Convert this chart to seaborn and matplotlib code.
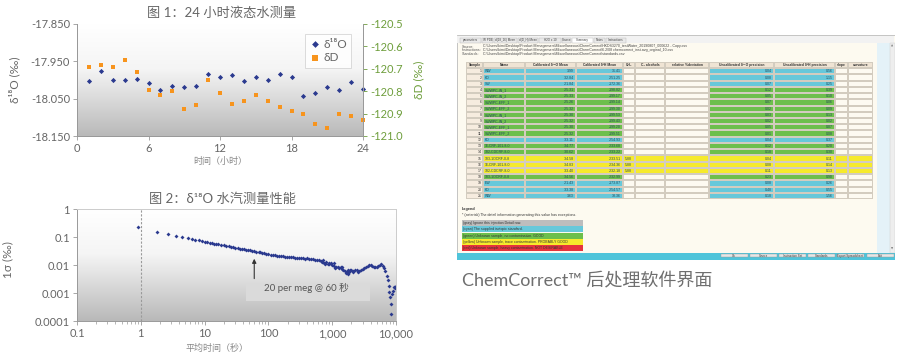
import numpy as np
import seaborn as sns
import matplotlib.pyplot as plt
from matplotlib.colors import LinearSegmentedColormap, ListedColormap
from matplotlib.patches import Rectangle
from matplotlib.ticker import FixedLocator, NullLocator, LogLocator, NullFormatter

# ---- 图1: 24 小时液态水测量 ----
hours = [1, 2, 3, 4, 5, 6, 7, 8, 9, 10, 11, 12, 13, 14, 15, 16, 17, 18, 19, 20, 21, 22, 23, 24]
d18o = [-18.002, -17.976, -18.001, -18.000, -17.997, -18.009, -18.028, -18.015, -18.020, -18.016,
        -17.983, -17.991, -17.986, -18.002, -17.991, -17.999, -17.984, -17.993, -18.043, -18.036,
        -18.019, -18.028, -18.006, -18.024]
dD = [-120.691, -120.681, -120.694, -120.660, -120.716, -120.794, -120.818, -120.797, -120.879, -120.861,
      -120.752, -120.809, -120.858, -120.843, -120.816, -120.842, -120.872, -120.887, -120.903, -120.948,
      -120.964, -120.903, -120.912, -120.928]

# ---- 图2: Allan 偏差 ----
tau = [0.9, 1.8, 2.7, 3.6, 4.5, 5.4, 6.3, 7.2, 8.1, 9.0, 10, 11, 12, 13, 14, 15, 16, 18, 20, 22, 24, 26, 28,
       30, 33, 36, 39, 42, 45, 48, 52, 56, 60, 65, 70, 75, 80, 86, 92, 100, 108, 116, 125, 135, 145, 156,
       168, 180, 195, 210, 225, 240, 260, 280, 300, 320, 345, 370, 400, 430, 460, 500, 540, 580, 620, 660,
       700, 720, 750, 780, 800, 850, 880, 900, 950, 1000, 1050, 1080, 1120, 1150, 1230, 1300, 1350, 1400,
       1450, 1500, 1600, 1650, 1700, 1750, 1800, 1850, 1900, 2000, 2100, 2150, 2300, 2450, 2500, 2600,
       2800, 3000, 3200, 3400, 3600, 3800, 4000, 4250, 4500, 4750, 5000, 5300, 5600, 5900, 6200, 6500,
       6800, 7100, 7400, 7700, 7900, 8100, 8250, 8350, 8600, 8900, 9300, 9700, 9900]
sigma = [0.22, 0.15, 0.125, 0.108, 0.098, 0.090, 0.084, 0.079, 0.075, 0.071, 0.068, 0.065, 0.062, 0.060,
         0.058, 0.056, 0.055, 0.052, 0.050, 0.048, 0.046, 0.044, 0.043, 0.042, 0.040, 0.038, 0.037, 0.036,
         0.035, 0.034, 0.033, 0.032, 0.031, 0.030, 0.029, 0.028, 0.027, 0.026, 0.025, 0.024, 0.0235, 0.023,
         0.022, 0.0215, 0.021, 0.021, 0.0205, 0.020, 0.0198, 0.0195, 0.019, 0.0188, 0.0185, 0.018, 0.0178,
         0.0182, 0.0175, 0.017, 0.0172, 0.0165, 0.016, 0.0162, 0.0155, 0.015, 0.0145, 0.014, 0.013, 0.0145,
         0.012, 0.011, 0.0125, 0.011, 0.012, 0.0105, 0.0115, 0.010, 0.0115, 0.0095, 0.0078, 0.0088, 0.0085,
         0.008, 0.0088, 0.0072, 0.0082, 0.0068, 0.0062, 0.0052, 0.0058, 0.0048, 0.0064, 0.0055, 0.0068,
         0.0065, 0.0055, 0.0062, 0.0066, 0.0064, 0.0058, 0.0063, 0.0068, 0.0072, 0.0078, 0.0085, 0.0095,
         0.0102, 0.0098, 0.0092, 0.0088, 0.0085, 0.0088, 0.0092, 0.0098, 0.0105, 0.0095, 0.0078, 0.006,
         0.0042, 0.0028, 0.0018, 0.0011, 0.0007, 0.0004, 0.00018, 0.0009, 0.0012, 0.0017, 0.0015, 0.0018]

# ---- ChemCorrect 表格 ----
col_names = ['Sample', 'Name', 'Calibrated δ¹⁸O Mean', 'Calibrated δ²H Mean', 'CH₄', 'C₂ alcohols',
             'relative %deviation', 'Uncalibrated δ¹⁸O precision', 'Uncalibrated δ²H precision',
             'slope', 'curvature']
names = ['WW', 'KD', 'SW', 'SWWPC-IN_1', 'SWWPC-IN_2', 'SWWPC-EFF_1', 'SWWPC-EFF_2', 'SWWPC-IN_1',
         'SWWPC-IN_2', 'SWWPC-EFF_1', 'SWWPC-EFF_2', 'KD', '16-CRF-101-8-0', '182-CDCRF-8-0',
         '183-1OCRF-0-8', '16-CRF-101-8-0', '182-CDCRF-8-0', '183-1OCRF-0-8', 'EW', 'KD', 'WW']
cal_d18o = [3.99, -32.84, -21.84, -25.31, -25.33, -25.26, -25.32, -25.30, -25.32, -25.30, -25.32,
            -33.11, -34.77, -30.62, -34.58, -34.83, -33.40, -34.56, -21.43, -33.38, 3.63]
cal_d2h = [31.41, -251.25, -172.36, -198.82, -199.17, -199.14, -199.30, -199.53, -199.43, -199.20,
           -199.51, -254.93, -233.68, -233.22, -233.51, -234.36, -232.18, -232.99, -173.87, -254.57, 33.36]
ch4 = [''] * 14 + ['5.88', '5.88', '5.88'] + [''] * 4
prec_d18o = [0.04, 0.08, 0.07, 0.12, 0.05, 0.07, 0.02, 0.03, 0.02, 0.05, 0.01, 0.04, 0.12, 0.18, 0.04,
             0.08, 0.11, 0.23, 0.08, 0.48, 0.18]
prec_d2h = [0.56, 1.15, 0.25, 0.39, 0.10, 0.06, 0.09, 0.13, 0.02, 0.07, 0.08, 0.37, 0.20, 0.30, 0.11,
            0.14, 0.13, 0.90, 0.26, 0.55, 1.56]
row_status = ['cyan'] * 3 + ['green'] * 8 + ['cyan'] + ['green'] * 2 + ['yellow'] * 3 + ['green'] + ['cyan'] * 3

legend_keys = ['(gray) Ignore this injection Detail row.',
               '(cyan) The supplied isotopic standard.',
               '(green) Unknown sample, no contamination. GOOD',
               '(yellow) Unknown sample, trace contamination. PROBABLY GOOD',
               '(red) Unknown sample, heavy contamination. NOT DESIRABLE']
legend_cols = ['#bdbdbd', '#67c8da', '#6dbf4c', '#f6ea2c', '#e6333d']
tabs = ['parameters', 'IR PDE', 'd(18_16) Mean', 'd(D_H) Mean', 'H2O x 10', 'Source', 'Summary',
        'Notes', 'Instructions']
buttons = ['Ok', 'Source', 'Instruction Set', 'Standards', 'Export Spreadsheet', 'Exit']

BLUE = '#2b3a8f'
ORANGE = '#f7941d'
GREEN = '#6e9e3c'
GREY_TXT = '#666666'

sns.set_style('ticks')
plt.rcParams['font.family'] = ['Lato', 'DejaVu Sans', 'Noto Sans CJK SC']
plt.rcParams['axes.unicode_minus'] = False

W, H = 913, 352


def box(x0, y0, x1, y1):
    return [x0 / W, 1 - y1 / H, (x1 - x0) / W, (y1 - y0) / H]


fig = plt.figure(figsize=(9.13, 3.52), dpi=100)
bg_cmap = LinearSegmentedColormap.from_list('bg', [(0, '#ffffff'), (0.4, '#f5f5f5'), (1, '#b9b9b9')])


def gradient_bg(rect):
    bg = fig.add_axes(rect, zorder=0)
    bg.imshow(np.linspace(0, 1, 200).reshape(-1, 1), cmap=bg_cmap, aspect='auto', extent=[0, 1, 0, 1])
    bg.axis('off')


def style_axes(ax):
    ax.set_facecolor('none')
    ax.tick_params(colors='#999999', labelcolor=GREY_TXT, length=3, width=0.6, labelsize=8, pad=2)
    for s in ax.spines.values():
        s.set_color('#999999')
        s.set_linewidth(0.7)


# ---------- 图1 ----------
r1 = box(77, 24, 363, 136)
gradient_bg(r1)
ax1 = fig.add_axes(r1, zorder=1)
style_axes(ax1)
sns.scatterplot(x=hours, y=d18o, ax=ax1, marker='D', s=7, color=BLUE, linewidth=0, label='δ¹⁸O',
                legend=False, clip_on=False)
ax1.set_xlim(0, 24)
ax1.set_ylim(-18.150, -17.850)
ax1.set_xticks([0, 6, 12, 18, 24])
ax1.set_yticks([-18.150, -18.050, -17.950, -17.850])
ax1.set_yticklabels(['%.3f' % v for v in [-18.150, -18.050, -17.950, -17.850]])
ax1.spines['top'].set_visible(False)
ax1.set_xlabel('时间（小时）', fontsize=6.5, color='#888888', labelpad=1)
ax1.set_ylabel('δ¹⁸O (‰)', fontsize=8.5, color=GREY_TXT)
ax1.xaxis.set_label_coords(0.5, -0.19)
ax1.yaxis.set_label_coords(-0.2, 0.5)

ax1b = ax1.twinx()
ax1b.set_zorder(2)
style_axes(ax1b)
ax1b.spines['top'].set_visible(False)
sns.scatterplot(x=hours, y=dD, ax=ax1b, marker='s', s=9, color=ORANGE, linewidth=0, label='δD',
                legend=False, clip_on=False)
ax1b.set_ylim(-121.0, -120.5)
ax1b.set_yticks([-121.0, -120.9, -120.8, -120.7, -120.6, -120.5])
ax1b.set_yticklabels(['%.1f' % v for v in [-121.0, -120.9, -120.8, -120.7, -120.6, -120.5]])
ax1b.tick_params(axis='y', colors=GREEN, labelcolor=GREEN)
ax1b.set_ylabel('δD (‰)', fontsize=8.5, color=GREEN)
ax1b.yaxis.set_label_coords(1.175, 0.5)
h1, l1 = ax1.get_legend_handles_labels()
h2, l2 = ax1b.get_legend_handles_labels()
leg = ax1b.legend(h1 + h2, l1 + l2, loc='upper right', bbox_to_anchor=(0.98, 0.96), fontsize=8.5,
                  frameon=True, fancybox=False, edgecolor='#cccccc', borderpad=0.35, labelspacing=0.25,
                  handletextpad=0.2, handlelength=1.0, markerscale=1.3)
leg.get_frame().set_linewidth(0.6)
for t in leg.get_texts():
    t.set_color(GREY_TXT)

fig.text(222 / W, 1 - 13 / H, '图 1：24 小时液态水测量', fontsize=9.5, color=GREY_TXT, ha='center', va='center')

# ---------- 图2 ----------
r2 = box(77, 209, 396, 321)
gradient_bg(r2)
ax2 = fig.add_axes(r2, zorder=1)
style_axes(ax2)
ax2.spines['top'].set_color('#cccccc')
ax2.spines['right'].set_color('#cccccc')
sns.scatterplot(x=tau, y=sigma, ax=ax2, marker='D', s=4, color=BLUE, linewidth=0, legend=False)
ax2.set_xscale('log')
ax2.set_yscale('log')
ax2.set_xlim(0.1, 10000)
ax2.set_ylim(1e-4, 1)
ax2.xaxis.set_major_locator(FixedLocator([0.1, 1, 10, 100, 1000, 10000]))
ax2.set_xticklabels(['0.1', '1', '10', '100', '1,000', '10,000'])
ax2.xaxis.set_minor_locator(LogLocator(base=10, subs=range(2, 10)))
ax2.xaxis.set_minor_formatter(NullFormatter())
ax2.tick_params(axis='x', which='minor', length=2, width=0.5, colors='#999999')
ax2.yaxis.set_major_locator(FixedLocator([1e-4, 1e-3, 1e-2, 1e-1, 1]))
ax2.set_yticklabels(['0.0001', '0.001', '0.01', '0.1', '1'])
ax2.yaxis.set_minor_locator(NullLocator())
ax2.axvline(1, color='#9a9a9a', lw=0.8, ls=(0, (2, 1.5)), zorder=1)
ax2.add_patch(Rectangle((44, 0.00052), 3900 - 44, 0.0021 - 0.00052, facecolor='#dadada',
                        edgecolor='none', zorder=1))
ax2.annotate('', xy=(60, 0.021), xytext=(60, 0.0026),
             arrowprops=dict(arrowstyle='-|>', color='#333333', lw=0.8, mutation_scale=6), zorder=3)
ax2.text(400, 0.00145, '20 per meg @ 60 秒', fontsize=7, color='#555555', ha='center', va='center', zorder=3)
ax2.set_xlabel('平均时间（秒）', fontsize=6.5, color='#888888')
ax2.set_ylabel('1σ (‰)', fontsize=8.5, color=GREY_TXT)
ax2.xaxis.set_label_coords(0.44, -0.2)
ax2.yaxis.set_label_coords(-0.2, 0.55)

fig.text(222 / W, 1 - 199 / H, '图 2：δ¹⁸O 水汽测量性能', fontsize=9.5, color=GREY_TXT, ha='center', va='center')

# ---------- ChemCorrect 窗口 ----------
SF = 'Liberation Sans'
axw = fig.add_axes(box(456, 33, 895, 260), zorder=1)
axw.set_xlim(456, 895)
axw.set_ylim(260, 33)
axw.axis('off')
axw.add_patch(Rectangle((456.5, 35), 438, 224, facecolor='#fdfaf0', edgecolor='#bbbbbb', lw=0.6))
axw.add_patch(Rectangle((457, 35.5), 437, 7.5, facecolor='#f2f2f2', edgecolor='none'))
tab_edges = [460, 482, 494, 518, 539, 562, 572, 594, 606, 627]
for i, name in enumerate(tabs):
    x0, x1 = tab_edges[i], tab_edges[i + 1] - 1
    axw.add_patch(Rectangle((x0, 37.5), x1 - x0, 5, facecolor='#ffffff' if name == 'Summary' else '#e9e9e9',
                            edgecolor='#b5b5b5', lw=0.3))
    axw.text((x0 + x1) / 2, 40, name, fontsize=2.2, family=SF, color='#444444', ha='center', va='center')
src_lab = ['Source:', 'Instructions:', 'Standards:']
src_txt = [r'C:\Users\kimi\Desktop\Product Management\Miscellaneous\ChemCorrect\HKDS3270_testWater_20190807_000622 - Copy.csv',
           r'C:\Users\kimi\Desktop\Product Management\Miscellaneous\ChemCorrect\6.2\08 chemcorrect_inst.avg_orginal_10.csv',
           r'C:\Users\kimi\Desktop\Product Management\Miscellaneous\ChemCorrect\standards.csv']
for i in range(3):
    axw.text(462, 46.5 + 3.6 * i, src_lab[i], fontsize=2.6, family=SF, color='#555555', va='center')
    axw.text(483, 46.5 + 3.6 * i, src_txt[i], fontsize=2.6, family=SF, color='#444444', va='center')
axw.add_patch(Rectangle((877, 43), 12.5, 210, facecolor='#e4f2f8', edgecolor='none'))
axw.add_patch(Rectangle((889.5, 43), 5, 210, facecolor='#eeeeee', edgecolor='#cccccc', lw=0.3))
axw.text(892, 46, '▲', fontsize=2, color='#777777', ha='center', va='center', family='DejaVu Sans')
axw.text(892, 249, '▼', fontsize=2, color='#777777', ha='center', va='center', family='DejaVu Sans')
axw.text(462, 209, 'Legend', fontsize=2.8, family=SF, weight='bold', color='#333333', va='center')
axw.text(462, 215, '* (asterisk) The detail information generating this value has exceptions.', fontsize=2.6,
         family=SF, color='#333333', va='center')
leg_y = [223, 229.3, 235.6, 241.9, 248.2]
axw.barh(leg_y, [121] * 5, left=462, height=5.8, color=legend_cols, edgecolor='none')
for y, t in zip(leg_y, legend_keys):
    axw.text(463, y, t, fontsize=2.5, family=SF, color='#333333', va='center')
axw.add_patch(Rectangle((457, 253), 437.5, 6.5, facecolor='#4fc4da', edgecolor='none'))
btn_x = [721, 750, 779, 808, 837, 867]
for x, b in zip(btn_x, buttons):
    axw.add_patch(Rectangle((x, 253.8), 26.5, 3.6, facecolor='#e6e6e6', edgecolor='#9a9a9a', lw=0.3))
    axw.text(x + 13.2, 255.6, b, fontsize=2.1, family=SF, color='#333333', ha='center', va='center')

# 表格
col_edges = [0, 17, 59, 110, 157, 169, 199, 243, 308, 369, 382, 407]
cell_cols = ['#efe4d4', '#f6ecdf', '#fdfaf1', '#67c8da', '#6dbf4c', '#f6ea2c']
code_of = {'cyan': 3, 'green': 4, 'yellow': 5}
codes = np.zeros((len(names) + 1, len(col_names)))
for r, st in enumerate(row_status, start=1):
    c = code_of[st]
    e = 5 if st == 'yellow' else 2
    codes[r] = [1, c, c, c, e, e, e, c, c, e, e]
axt = fig.add_axes(box(466, 62, 873, 199), zorder=2)
axt.pcolormesh(col_edges, np.arange(len(names) + 2), codes, cmap=ListedColormap(cell_cols), vmin=-0.5,
               vmax=5.5, edgecolors='#d3ccbf', linewidth=0.35)
axt.set_xlim(0, 407)
axt.set_ylim(len(names) + 1, 0)
axt.axis('off')
TXT = '#23485a'
for j, cn in enumerate(col_names):
    axt.text((col_edges[j] + col_edges[j + 1]) / 2, 0.5, cn, fontsize=2.4, family=SF, color='#333333',
             ha='center', va='center', weight='bold')
for i in range(len(names)):
    y = i + 1.5
    axt.text(col_edges[1] - 1.5, y, str(i + 1), fontsize=2.5, family=SF, color='#333333', ha='right', va='center')
    axt.text(col_edges[1] + 1.5, y, names[i], fontsize=2.5, family=SF, color=TXT, ha='left', va='center')
    axt.text(col_edges[3] - 2, y, '%.2f' % cal_d18o[i], fontsize=2.5, family=SF, color=TXT, ha='right', va='center')
    axt.text(col_edges[4] - 2, y, '%.2f' % cal_d2h[i], fontsize=2.5, family=SF, color=TXT, ha='right', va='center')
    axt.text(col_edges[4] + 1.5, y, ch4[i], fontsize=2.5, family=SF, color=TXT, ha='left', va='center')
    axt.text(col_edges[8] - 2, y, '%.2f' % prec_d18o[i], fontsize=2.5, family=SF, color=TXT, ha='right', va='center')
    axt.text(col_edges[9] - 2, y, '%.2f' % prec_d2h[i], fontsize=2.5, family=SF, color=TXT, ha='right', va='center')

fig.text(462 / W, 1 - 286 / H, 'ChemCorrect™ 后处理软件界面', fontsize=13, color='#6f6f6f',
         va='baseline', ha='left')

fig.savefig('out.png', dpi=100)
